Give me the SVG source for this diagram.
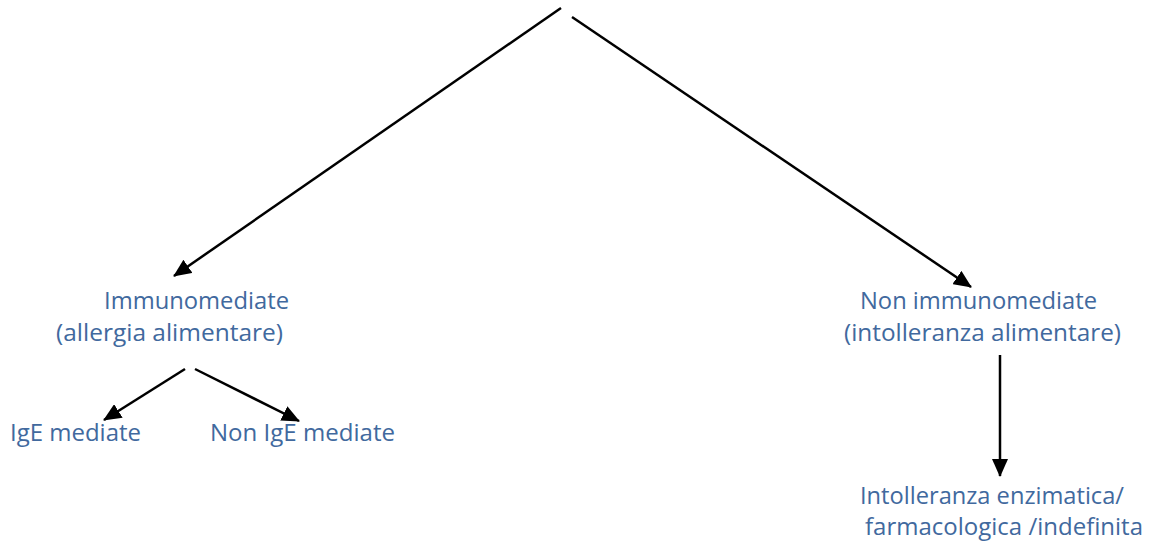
<svg xmlns="http://www.w3.org/2000/svg" width="1149" height="545" viewBox="0 0 1149 545">
<defs>
<marker id="ah" markerWidth="18" markerHeight="16" refX="17" refY="8" orient="auto" markerUnits="userSpaceOnUse" viewBox="0 0 18 16">
<path d="M0,0 L18,8 L0,16 Z" fill="#000"/>
</marker>
<style>
.t{font-family:"Open Sans","Noto Sans",sans-serif;font-size:24px;fill:#41699E}
.c{stroke:#000;stroke-width:2.5;fill:none;marker-end:url(#ah)}
</style>
</defs>
<rect width="1149" height="545" fill="#fff"/>
<g id="connectors">
<line class="c" x1="561" y1="8" x2="174" y2="276"/>
<line class="c" x1="572" y1="17" x2="971" y2="287"/>
<line class="c" x1="185" y1="369" x2="104" y2="420"/>
<line class="c" x1="195" y1="369" x2="299" y2="421"/>
<line class="c" x1="1000" y1="355" x2="1000" y2="476"/>
</g>
<g id="immuno">
<text class="t" x="104" y="309" textLength="185" lengthAdjust="spacingAndGlyphs">Immunomediate</text>
<text class="t" x="56" y="341" textLength="227" lengthAdjust="spacingAndGlyphs">(allergia alimentare)</text>
</g>
<g id="nonimmuno">
<text class="t" x="860" y="309" textLength="237" lengthAdjust="spacingAndGlyphs">Non immunomediate</text>
<text class="t" x="844" y="341" textLength="277" lengthAdjust="spacingAndGlyphs">(intolleranza alimentare)</text>
</g>
<g id="ige">
<text class="t" x="10" y="441" textLength="131" lengthAdjust="spacingAndGlyphs">IgE mediate</text>
</g>
<g id="nonige">
<text class="t" x="210" y="441" textLength="185" lengthAdjust="spacingAndGlyphs">Non IgE mediate</text>
</g>
<g id="intolleranza">
<text class="t" x="860" y="504" textLength="264" lengthAdjust="spacingAndGlyphs">Intolleranza enzimatica/</text>
<text class="t" x="865" y="535" textLength="278" lengthAdjust="spacingAndGlyphs">farmacologica /indefinita</text>
</g>
</svg>
